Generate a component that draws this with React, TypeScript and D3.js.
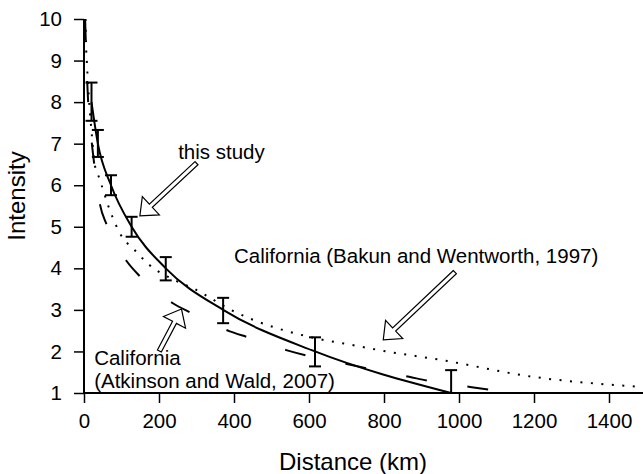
import { useRef, useEffect } from "react";
import * as d3 from "d3";

// this study: points with error bars
const studyDist = [20, 37, 72, 127, 218, 371, 616, 979];
const studyInt = [8, 7, 6, 5, 4, 3, 2, 1];
const studyLo = [7.55, 6.68, 5.76, 4.76, 3.71, 2.68, 1.64, 1];
const studyHi = [8.47, 7.33, 6.24, 5.24, 4.27, 3.29, 2.34, 1.55];

// California (Bakun and Wentworth, 1997) - dotted
const bakunDist = [4, 6, 7.5, 9, 16, 20.5, 29, 38, 47, 64, 74, 96, 136, 176, 243, 291, 394, 616, 700, 807, 949, 1197, 1483];
const bakunInt = [10, 9.23, 8.97, 8.72, 7.73, 7.25, 6.48, 6.24, 6.0, 5.52, 5.28, 4.84, 4.43, 4.07, 3.71, 3.52, 2.99, 2.32, 2.18, 2.0, 1.8, 1.39, 1.15];

// California (Atkinson and Wald, 2007) - dashed
const atkDist = [3, 5, 10, 21, 27, 43, 60, 114, 149, 237, 285, 387, 437, 544, 594, 704, 757, 867, 920, 1034, 1087];
const atkInt = [10, 9.4, 8.2, 7.0, 6.53, 5.52, 5.06, 4.17, 3.81, 3.16, 2.93, 2.49, 2.34, 2.02, 1.9, 1.69, 1.59, 1.39, 1.29, 1.14, 1.07];

const xTicks = [0, 200, 400, 600, 800, 1000, 1200, 1400];
const yTicks = [1, 2, 3, 4, 5, 6, 7, 8, 9, 10];

// annotations in data units: [tailKm, tailI, tipKm, tipI]
const arrows = [
  [300, 6.53, 149, 5.26],
  [201, 2.01, 260, 3.02],
  [989, 3.91, 798, 2.28],
];
const labels = [
  { text: "this study", d: 251, i: 6.64 },
  { text: "California (Bakun and Wentworth, 1997)", d: 400, i: 4.13 },
  { text: "California", d: 27, i: 1.68 },
  { text: "(Atkinson and Wald, 2007)", d: 27, i: 1.12 },
];

const W = 643, H = 474;
const FONT = "'Liberation Sans', Arial, Helvetica, sans-serif";

export default function App() {
  const ref = useRef<SVGSVGElement>(null);

  useEffect(() => {
    if (!ref.current) return;
    const svg = d3.select(ref.current); svg.selectAll("*").remove();
    const x = d3.scaleLinear().domain([0, 1500]).range([84, 646.5]);
    const y = d3.scaleLinear().domain([1, 10]).range([393, 19]);
    const g = svg.append("g");

    const line = (xs: number[], ys: number[]) =>
      d3.line<number>().x(i => x(xs[i])).y(i => y(ys[i])).curve(d3.curveMonotoneX)(d3.range(xs.length));

    g.append("path").attr("d", line(bakunDist, bakunInt)).attr("fill", "none").attr("stroke", "#000")
      .attr("stroke-width", 2).attr("stroke-dasharray", "2 8.5");
    g.append("path").attr("d", line(atkDist, atkInt)).attr("fill", "none").attr("stroke", "#000")
      .attr("stroke-width", 2).attr("stroke-dasharray", "21 41");
    g.append("path").attr("d", line(studyDist, studyInt)).attr("fill", "none").attr("stroke", "#000")
      .attr("stroke-width", 2);

    // error bars
    studyDist.forEach((d, i) => {
      const cx = x(d);
      g.append("line").attr("x1", cx).attr("x2", cx).attr("y1", y(studyLo[i])).attr("y2", y(studyHi[i]))
        .attr("stroke", "#000").attr("stroke-width", 2);
      [studyLo[i], studyHi[i]].forEach(v => {
        g.append("line").attr("x1", cx - 6).attr("x2", cx + 6).attr("y1", y(v)).attr("y2", y(v))
          .attr("stroke", "#000").attr("stroke-width", 2);
      });
    });

    // axes
    const yAxis = g.append("g").attr("transform", `translate(84,0)`)
      .call(d3.axisLeft(y).tickValues(yTicks).tickSize(10).tickPadding(12).tickFormat(d3.format("d")));
    const xAxis = g.append("g").attr("transform", `translate(0,393)`)
      .call(d3.axisBottom(x).tickValues(xTicks).tickSize(10).tickPadding(10).tickFormat(d3.format("d")));
    [xAxis, yAxis].forEach(a => {
      a.select(".domain").attr("stroke", "#000").attr("stroke-width", 2);
      a.selectAll(".tick line").attr("stroke", "#000").attr("stroke-width", 1.5);
      a.selectAll("text").attr("fill", "#000").attr("font-size", "20.5px").attr("font-family", FONT);
    });
    yAxis.select(".domain").attr("d", `M0,${y(1)}V${y(10)}`);
    xAxis.select(".domain").attr("d", `M${x(0)},0H${W + 10}`);

    // hollow arrows
    arrows.forEach(([d1, i1, d2, i2]) => {
      const x1 = x(d1), y1 = y(i1), x2 = x(d2), y2 = y(i2);
      const len = Math.hypot(x2 - x1, y2 - y1);
      const ux = (x2 - x1) / len, uy = (y2 - y1) / len;
      const nx = -uy, ny = ux;
      const hl = 15, hh = 12.5, sh = 2.2;
      const bx = x2 - ux * hl, by = y2 - uy * hl;
      const pts = [
        [x1 + nx * sh, y1 + ny * sh], [bx + nx * sh, by + ny * sh], [bx + nx * hh, by + ny * hh],
        [x2, y2], [bx - nx * hh, by - ny * hh], [bx - nx * sh, by - ny * sh], [x1 - nx * sh, y1 - ny * sh],
      ];
      g.append("path").attr("d", "M" + pts.map(p => p.join(",")).join("L") + "Z")
        .attr("fill", "#fff").attr("stroke", "#000").attr("stroke-width", 1.2).attr("stroke-linejoin", "miter");
    });

    labels.forEach(l => {
      g.append("text").attr("x", x(l.d)).attr("y", y(l.i)).attr("font-size", "20.5px")
        .attr("font-family", FONT).attr("fill", "#000").text(l.text);
    });

    g.append("text").attr("transform", "translate(25,196) rotate(-90)").attr("text-anchor", "middle")
      .attr("font-size", "24px").attr("font-family", FONT).attr("fill", "#000").text("Intensity");
    g.append("text").attr("x", 353).attr("y", 470).attr("text-anchor", "middle")
      .attr("font-size", "24px").attr("font-family", FONT).attr("fill", "#000").text("Distance (km)");
  }, []);

  return (
    <svg ref={ref} width={W} height={H}
      style={{ position: "absolute", left: 0, top: 0, background: "#fff", display: "block" }} />
  );
}
